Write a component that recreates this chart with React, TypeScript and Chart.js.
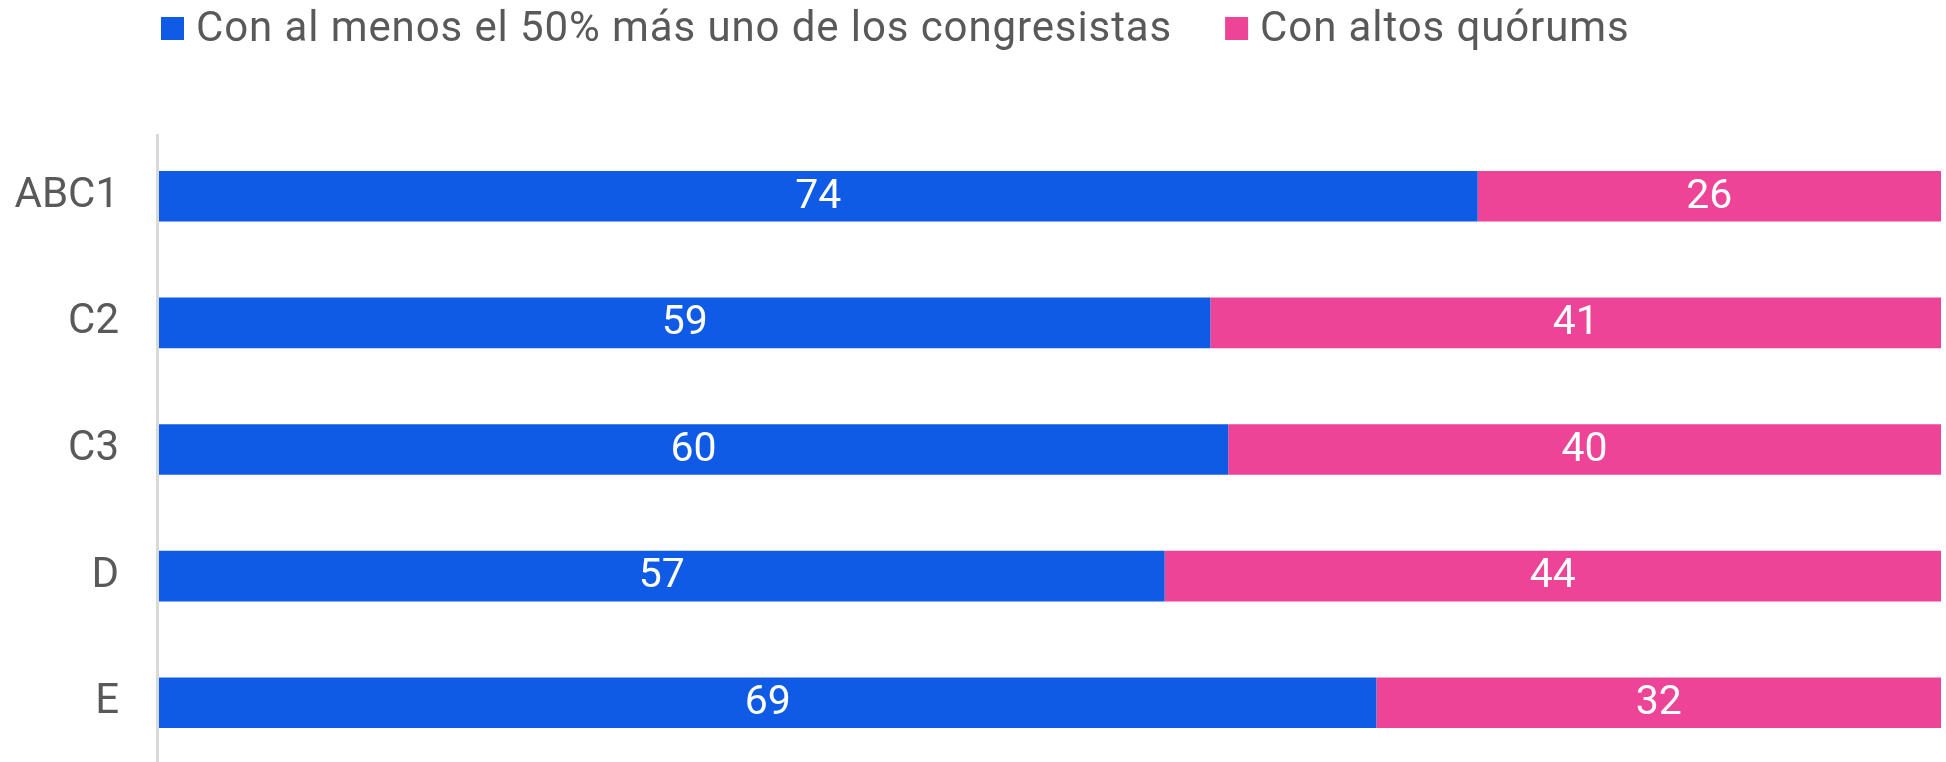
import React, { useEffect, useRef } from "react";
import { Chart, registerables } from "chart.js";

Chart.register(...registerables);

const categories = ["ABC1", "C2", "C3", "D", "E"];
const seriesNames = ["Con al menos el 50% más uno de los congresistas", "Con altos quórums"];
const mayoria = [74, 59, 60, 57, 69];
const quorums = [26, 41, 40, 44, 32];
const colors = ["#0F5BE5", "#EE4497"];

const FONT = "Roboto";
const TEXT = "#595959";

const totals = categories.map((_, i) => mayoria[i] + quorums[i]);
const share = (arr: number[]) => arr.map((v, i) => (v / totals[i]) * 100);
const rawValues = [mayoria, quorums];

const legendPlugin = {
  id: "customLegend",
  afterDraw(chart: any) {
    const ctx = chart.ctx;
    ctx.save();
    ctx.font = `42px ${FONT}`;
    ctx.textBaseline = "middle";
    ctx.textAlign = "left";
    try {
      ctx.letterSpacing = "0.9px";
    } catch (e) {}
    let x = 161;
    chart.data.datasets.forEach((ds: any) => {
      ctx.fillStyle = ds.backgroundColor;
      ctx.fillRect(x, 17, 23, 23);
      ctx.fillStyle = TEXT;
      const tx = x + 35;
      ctx.fillText(ds.label, tx, 30);
      x = tx + ctx.measureText(ds.label).width + 53;
    });
    ctx.restore();
  },
};

const axisLinePlugin = {
  id: "axisLine",
  beforeDatasetsDraw(chart: any) {
    const { ctx, chartArea } = chart;
    ctx.save();
    ctx.strokeStyle = "#D9D9D9";
    ctx.lineWidth = 3;
    ctx.beginPath();
    ctx.moveTo(chartArea.left - 1.5, 134);
    ctx.lineTo(chartArea.left - 1.5, chart.height);
    ctx.stroke();
    ctx.restore();
  },
};

const valueLabelPlugin = {
  id: "valueLabels",
  afterDatasetsDraw(chart: any) {
    const ctx = chart.ctx;
    ctx.save();
    ctx.font = `41px ${FONT}`;
    ctx.fillStyle = "#FFFFFF";
    ctx.textAlign = "center";
    ctx.textBaseline = "middle";
    chart.data.datasets.forEach((_: any, di: number) => {
      const meta = chart.getDatasetMeta(di);
      meta.data.forEach((bar: any, i: number) => {
        const cx = (bar.x + bar.base) / 2;
        ctx.fillText(String(rawValues[di][i]), cx, bar.y + 1);
      });
    });
    ctx.restore();
  },
};

export default function App() {
  const ref = useRef<HTMLCanvasElement>(null);
  useEffect(() => {
    document.body.style.margin = "0";
    document.body.style.overflow = "hidden";
    const chart = new Chart(ref.current!, {
      type: "bar",
      data: {
        labels: categories,
        datasets: [
          { label: seriesNames[0], data: share(mayoria), backgroundColor: colors[0], borderWidth: 0 },
          { label: seriesNames[1], data: share(quorums), backgroundColor: colors[1], borderWidth: 0 },
        ],
      },
      options: {
        indexAxis: "y",
        animation: false,
        responsive: false,
        devicePixelRatio: 1,
        layout: { autoPadding: false, padding: { top: 133, right: 5, bottom: 0, left: 0 } },
        datasets: { bar: { categoryPercentage: 0.8, barPercentage: 0.5 } },
        plugins: { legend: { display: false }, tooltip: { enabled: false } },
        scales: {
          x: { stacked: true, min: 0, max: 100, display: false },
          y: {
            stacked: true,
            grid: { display: false, drawTicks: false },
            border: { display: false },
            ticks: { padding: 40, color: TEXT, font: { family: FONT, size: 42 } },
            afterFit: (s: any) => {
              s.width = 159;
              s.paddingTop = 0;
              s.paddingBottom = 0;
            },
          },
        },
      },
      plugins: [legendPlugin, axisLinePlugin, valueLabelPlugin],
    });
    return () => chart.destroy();
  }, []);
  return (
    <div style={{ width: 1946, height: 762, overflow: "hidden" }}>
      <canvas ref={ref} width={1946} height={766} style={{ display: "block" }} />
    </div>
  );
}
